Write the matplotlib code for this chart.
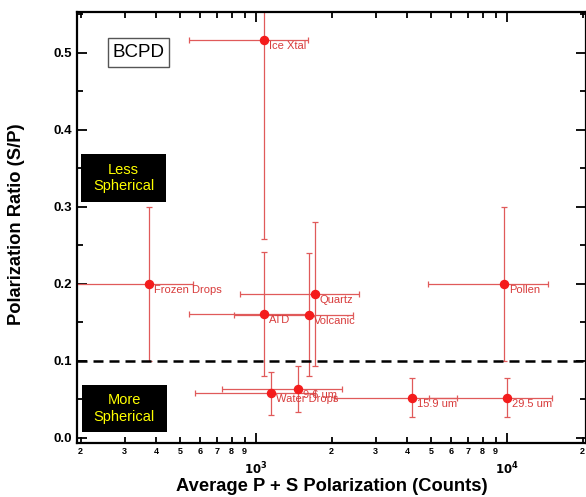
import numpy as np
import matplotlib.pyplot as plt
from matplotlib.patches import Rectangle
from matplotlib.ticker import LogLocator, MultipleLocator, FuncFormatter

plt.rcParams["font.family"] = ["Liberation Sans", "DejaVu Sans"]

# particle types: mean counts, S/P ratio and their uncertainties
names = ["Ice Xtal", "Frozen Drops", "ATD", "Volcanic", "Quartz", "Pollen",
         "Water Drops", "9.6 um", "15.9 um", "29.5 um"]
counts = [1076, 375, 1076, 1626, 1718, 9727, 1147, 1470, 4182, 9972]
counts_err = [537, 186, 537, 808, 854, 4870, 576, 735, 2139, 5100]
ratio = [0.517, 0.200, 0.161, 0.160, 0.187, 0.200, 0.058, 0.0636, 0.0523, 0.0523]
ratio_err = [0.258, 0.100, 0.080, 0.080, 0.094, 0.100, 0.0275, 0.030, 0.0253, 0.0253]
threshold = 0.1

fig = plt.figure(figsize=(5.86, 4.97), dpi=100)
ax = fig.add_axes([77 / 586, 1 - 443 / 497, 509 / 586, 431 / 497])

ax.errorbar(counts, ratio, xerr=counts_err, yerr=ratio_err, fmt="none",
            ecolor="#e05a5a", elinewidth=0.9, capsize=2.5, capthick=0.9, zorder=2)
ax.plot(counts, ratio, "o", color="#f41c1c", markersize=5.8, zorder=3)
for n, x, y in zip(names, counts, ratio):
    ax.annotate(n, (x, y), xytext=(3.6, -4.3), textcoords="offset points",
                ha="left", va="center", fontsize=8, color="#d83c3c", zorder=4)

ax.axhline(threshold, color="black", lw=1.8, linestyle=(0, (4, 2.4)), zorder=5)

ax.set_xscale("log")
ax.set_xlim(193.6, 20640)
ax.set_ylim(-0.0065, 0.5532)

ax.yaxis.set_major_locator(MultipleLocator(0.1))
ax.yaxis.set_minor_locator(MultipleLocator(0.05))
ax.yaxis.set_major_formatter(FuncFormatter(lambda v, p: f"{v:.1f}"))
ax.xaxis.set_major_locator(LogLocator(base=10))
ax.xaxis.set_minor_locator(LogLocator(base=10, subs=np.arange(2, 10)))
ax.xaxis.set_major_formatter(FuncFormatter(
    lambda v, p: r"$\mathbf{10^{%d}}$" % round(np.log10(v))))
ax.xaxis.set_minor_formatter(FuncFormatter(
    lambda v, p: f"{round(v / 10 ** np.floor(np.log10(v) + 1e-9))}"))

ax.tick_params(which="both", direction="in", top=True, right=True, width=1.3)
ax.tick_params(which="major", length=7)
ax.tick_params(which="minor", length=4)
ax.tick_params(axis="y", labelsize=9.5, pad=3.5)
ax.tick_params(axis="x", which="major", labelsize=8.5, pad=13)
ax.tick_params(axis="x", which="minor", labelsize=6.5, pad=3)
for lab in ax.get_yticklabels() + ax.get_xticklabels(minor=True):
    lab.set_fontweight("bold")
for s in ax.spines.values():
    s.set_linewidth(1.6)

ax.set_xlabel("Average P + S Polarization (Counts)", fontsize=13.2,
              fontweight="bold", labelpad=0)
ax.set_ylabel("Polarization Ratio (S/P)", fontsize=13.2, fontweight="bold")
ax.yaxis.set_label_coords(-0.102, 0.508)

# annotation boxes
ax.add_patch(Rectangle((0.0079, 0.559), 0.167, 0.1115, transform=ax.transAxes,
                       facecolor="black", edgecolor="none", zorder=6))
ax.text(0.0913, 0.6148, "Less\nSpherical", transform=ax.transAxes, ha="center",
        va="center", color="#ffff00", fontsize=10.5, linespacing=1.25, zorder=7)
ax.add_patch(Rectangle((0.0098, 0.0255), 0.167, 0.109, transform=ax.transAxes,
                       facecolor="black", edgecolor="none", zorder=6))
ax.text(0.0932, 0.0800, "More\nSpherical", transform=ax.transAxes, ha="center",
        va="center", color="#ffff00", fontsize=10.5, linespacing=1.25, zorder=7)
ax.add_patch(Rectangle((0.061, 0.8724), 0.12, 0.0673, transform=ax.transAxes,
                       facecolor="white", edgecolor="#555555", lw=1, zorder=6))
ax.text(0.121, 0.906, "BCPD", transform=ax.transAxes, ha="center", va="center",
        color="black", fontsize=13.5, zorder=7)

fig.savefig("out.png", dpi=100)
plt.close(fig)
